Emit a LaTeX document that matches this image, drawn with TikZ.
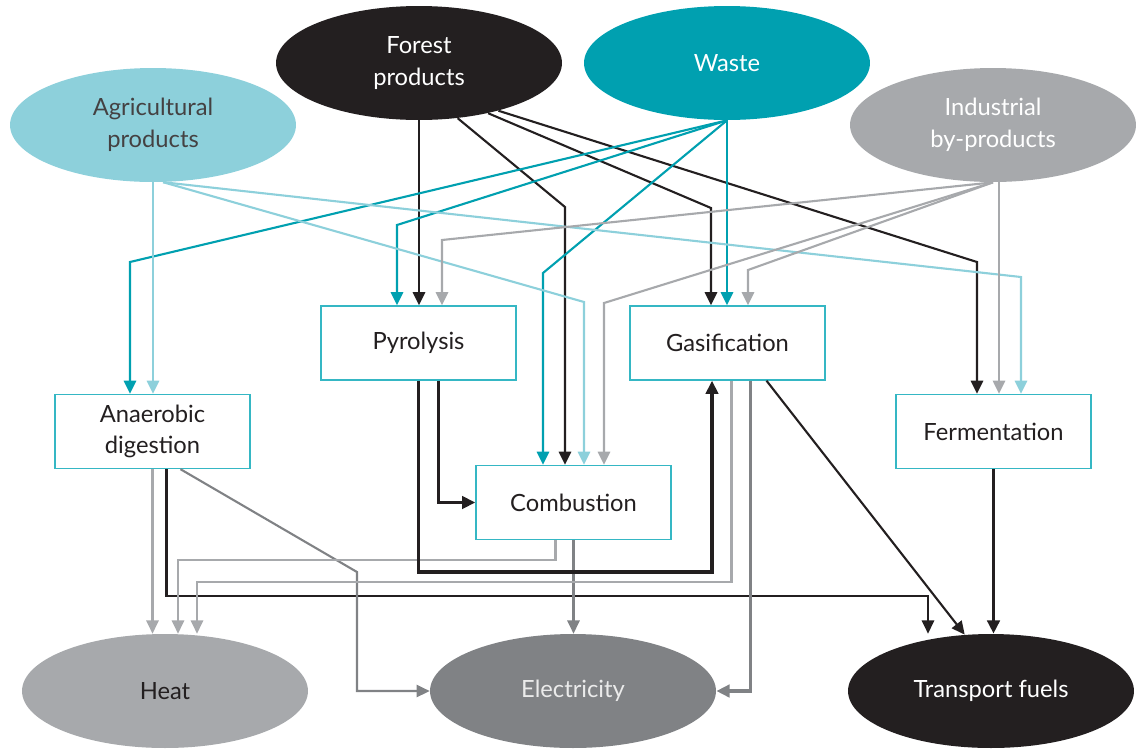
\documentclass[tikz,border=0pt]{standalone}
\usepackage{fontspec}
\setmainfont{Lato}
\usetikzlibrary{shapes.geometric,arrows.meta,calc}

\definecolor{ink}{HTML}{231F20}
\definecolor{wastecol}{HTML}{00A0B0}
\definecolor{agricol}{HTML}{8DD0DB}
\definecolor{indcol}{HTML}{A7A9AC}
\definecolor{eleccol}{HTML}{808285}
\definecolor{boxcol}{HTML}{35B7C4}

\tikzset{
  lbl/.style={font=\fontsize{13.5}{18}\selectfont, align=center},
  source/.style={lbl, ellipse, inner sep=0pt, minimum width=5.72cm, minimum height=2.28cm},
  process/.style={lbl, rectangle, draw=boxcol, line width=0.8pt, fill=white, text=ink,
    minimum width=3.9cm, minimum height=1.48cm},
  link/.style={line width=1.2pt, -{Triangle[length=7.5pt,width=7pt]}},
  heavylink/.style={link, line width=1.9pt},
  forestln/.style={link, draw=ink},
  wasteln/.style={link, draw=wastecol},
  agriln/.style={link, draw=agricol},
  indln/.style={link, draw=indcol},
  elecln/.style={link, draw=eleccol}
}

\begin{document}
\begin{tikzpicture}[x=0.02cm, y=-0.02cm]
  \useasboundingbox (0,0) rectangle (1136,748);

  \node[source, fill=agricol, text=ink!85] (agri) at (153,125) {Agricultural\\products};
  \node[source, fill=ink, text=white] (forest) at (419,63) {Forest\\products};
  \node[source, fill=wastecol, text=white] (waste) at (727,63) {Waste};
  \node[source, fill=indcol, text=white] (ind) at (993,125) {Industrial\\by-products};

  \node[process] (pyro) at (418.5,343) {Pyrolysis};
  \node[process] (gasi) at (727.5,343) {Gasification};
  \node[process] (anae) at (152.5,431.5) {Anaerobic\\digestion};
  \node[process] (comb) at (573.5,502.5) {Combustion};
  \node[process] (ferm) at (993.5,431.5) {Fermentation};

  \node[source, fill=indcol, text=ink] (heat) at (165,691) {Heat};
  \node[source, fill=eleccol, text=white!92!black] (elec) at (573,691) {Electricity};
  \node[source, fill=ink, text=white] (trans) at (991,691) {Transport fuels};

  \draw[forestln] (forest.south) -- (forest.south |- pyro.north);
  \draw[forestln] (forest.-55) -- (565,207) -- (565,207 |- comb.north);
  \draw[forestln] (forest.-36) -- (711,208) -- (711,208 |- gasi.north);
  \draw[forestln] (forest.-31) -- (977,262) -- (977,262 |- ferm.north);

  \draw[wasteln] (waste.south) -- (waste.south |- gasi.north);
  \draw[wasteln] (waste.south) -- (397,225) -- (397,225 |- pyro.north);
  \draw[wasteln] (waste.south) -- (130,262) -- (130,262 |- anae.north);
  \draw[wasteln] (waste.south) -- (543,273) -- (543,273 |- comb.north);

  \draw[agriln] (agri.south) -- (agri.south |- anae.north);
  \draw[agriln] (agri.-80) -- (584,302) -- (584,302 |- comb.north);
  \draw[agriln] (agri.-80) -- (1021,277) -- (1021,277 |- ferm.north);

  \draw[indln] (ind.-84) -- (ind.-84 |- ferm.north);
  \draw[indln] (ind.south) -- (748,270) -- (748,270 |- gasi.north);
  \draw[indln] (ind.south) -- (604,303) -- (604,303 |- comb.north);
  \draw[indln] (ind.south) -- (442,240) -- (442,240 |- pyro.north);

  \draw[indln] (anae.south) -- (anae.south |- heat.north);
  \draw[forestln] ($(anae.south)+(14,0)$) |- (928,596) -- (928,596 |- trans.north);
  \draw[elecln] ($(anae.south)+(28,0)$) -- (357,572) |- (elec.west);

  \draw[indln] ($(comb.south)+(-18,0)$) |- (178,560) -- (178,560 |- heat.north);
  \draw[elecln] (comb.south) -- (comb.south |- elec.north);

  \draw[forestln, heavylink] (pyro.south) |- (712,572) -- (712,572 |- gasi.south);
  \draw[forestln, heavylink] ($(pyro.south)+(20,0)$) |- (comb.west);

  \draw[indln] ($(gasi.south)+(4,0)$) |- (197,582) -- (197,582 |- heat.north);
  \draw[elecln, heavylink] ($(gasi.south)+(23,0)$) |- (elec.east);
  \draw[forestln] ($(gasi.south)+(39,0)$) -- (trans.115);

  \draw[forestln, heavylink] (ferm.south) -- (ferm.south |- trans.north);

\end{tikzpicture}
\end{document}
